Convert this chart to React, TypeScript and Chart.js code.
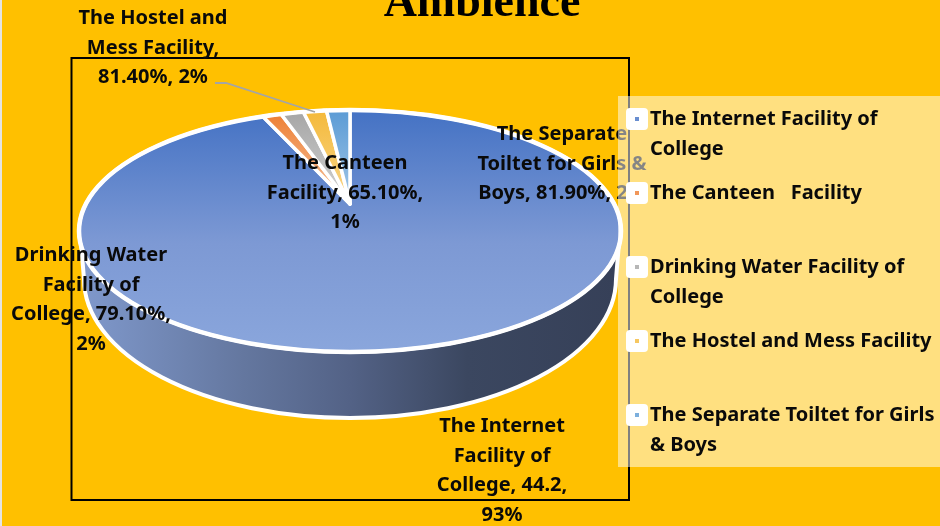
import React, { useEffect, useRef } from "react";
import { Chart, registerables } from "chart.js";

Chart.register(...registerables);

const titleText = "Ambience";
const categories = [
  "The Internet Facility of College",
  "The Canteen \u00a0 Facility",
  "Drinking Water Facility of College",
  "The Hostel and Mess Facility",
  "The Separate Toiltet for Girls & Boys",
];
const values = [44.2, 0.651, 0.791, 0.814, 0.819];
const sliceColors = ["#4472C4", "#ED7D31", "#A5A5A5", "#F4B93A", "#5B9BD5"];
const sliceFades = ["#8AA6DC", "#F6C4A0", "#D4D4D4", "#F9D88E", "#A4C8E8"];
const dataLabelLines = [
  ["The Internet", "Facility of", "College, 44.2,", "93%"],
  ["The Canteen", "Facility, 65.10%,", "1%"],
  ["Drinking Water", "Facility of", "College, 79.10%,", "2%"],
  ["The Hostel and", "Mess Facility,", "81.40%, 2%"],
  ["The Separate", "Toiltet for Girls &", "Boys, 81.90%, 2%"],
];

const FONT = "'Noto Sans', sans-serif";
const LABEL_SIZE = 20;
const LINE = 29.6;
const CX = 350;
const CY = 231;
const RX = 271;
const RY = 121;
const K = 0.223;
const labelAnchors = [
  { x: 502, y: 426.5 },
  { x: 345, y: 163.5 },
  { x: 91, y: 255.5 },
  { x: 153, y: 18.5 },
  { x: 562, y: 134.5 },
];
const legendTops = [103, 177, 251, 325, 399];

function project(u: number, v: number): [number, number] {
  const w = 1 - K * v;
  const X = (u * Math.sqrt(1 - K * K)) / w;
  const Y = (v - K) / w;
  return [CX + RX * X, CY + RY * Y];
}

function drawSlice(this: any, ctx: CanvasRenderingContext2D) {
  const el = this;
  const i = el.$index as number;
  const steps = 120;
  ctx.save();
  ctx.beginPath();
  const [ax, ay] = project(0, 0);
  ctx.moveTo(ax, ay);
  for (let s = 0; s <= steps; s++) {
    const a = el.startAngle + ((el.endAngle - el.startAngle) * s) / steps;
    const [px, py] = project(Math.cos(a), Math.sin(a));
    ctx.lineTo(px, py);
  }
  ctx.closePath();
  const grad = ctx.createLinearGradient(0, 110, 0, i === 0 ? 352 : 205);
  grad.addColorStop(0, sliceColors[i]);
  if (i === 0) grad.addColorStop(0.55, "#7D99D4");
  grad.addColorStop(1, sliceFades[i]);
  ctx.fillStyle = grad;
  ctx.fill();
  ctx.strokeStyle = "#FFFFFF";
  ctx.lineWidth = 3.5;
  ctx.lineJoin = "round";
  ctx.stroke();
  ctx.restore();
}

const pie3d = {
  id: "pie3d",
  beforeDatasetsDraw(chart: any) {
    const ctx: CanvasRenderingContext2D = chart.ctx;
    // plot frame
    ctx.save();
    ctx.strokeStyle = "#000000";
    ctx.lineWidth = 2;
    ctx.strokeRect(71.5, 58, 557.5, 442);
    // side wall of the disc
    const wallCy = 279;
    const wallRx = 266;
    const wallRy = 139;
    ctx.beginPath();
    ctx.moveTo(CX - RX + 1, CY);
    ctx.lineTo(CX - wallRx, wallCy);
    ctx.ellipse(CX, wallCy, wallRx, wallRy, 0, Math.PI, 0, true);
    ctx.lineTo(CX + RX - 1, CY);
    ctx.closePath();
    const g = ctx.createLinearGradient(84, 0, 616, 0);
    g.addColorStop(0, "#7F98CB");
    g.addColorStop(0.3, "#64779F");
    g.addColorStop(0.5, "#536286");
    g.addColorStop(0.72, "#3B4760");
    g.addColorStop(1, "#364058");
    ctx.fillStyle = g;
    ctx.fill();
    ctx.strokeStyle = "#FFFFFF";
    ctx.lineWidth = 4;
    ctx.stroke();
    ctx.restore();
    const meta = chart.getDatasetMeta(0);
    meta.data.forEach((el: any, i: number) => {
      el.$index = i;
      el.draw = drawSlice;
    });
  },
  afterDatasetsDraw(chart: any) {
    const ctx: CanvasRenderingContext2D = chart.ctx;
    ctx.save();
    // white rim of the top face
    ctx.strokeStyle = "#FFFFFF";
    ctx.lineWidth = 4.5;
    ctx.beginPath();
    ctx.ellipse(CX, CY, RX, RY, 0, 0, Math.PI * 2);
    ctx.stroke();
    // leader line
    ctx.strokeStyle = "#A5A5A5";
    ctx.lineWidth = 1.8;
    ctx.beginPath();
    ctx.moveTo(215, 83);
    ctx.lineTo(226, 83);
    ctx.lineTo(315, 112);
    ctx.stroke();
    // title, cropped by the top edge
    ctx.fillStyle = "#000000";
    ctx.textAlign = "center";
    ctx.textBaseline = "alphabetic";
    ctx.font = "bold 46px 'Liberation Serif', serif";
    ctx.fillText(titleText, 482, 16);
    // data labels
    ctx.font = `bold ${LABEL_SIZE}px ${FONT}`;
    ctx.textBaseline = "middle";
    ctx.fillStyle = "#0A0A0A";
    dataLabelLines.forEach((lines, i) => {
      lines.forEach((line, j) => {
        ctx.fillText(line, labelAnchors[i].x, labelAnchors[i].y + j * LINE);
      });
    });
    ctx.restore();
  },
};

export default function App() {
  const ref = useRef<HTMLCanvasElement>(null);
  useEffect(() => {
    const chart = new Chart(ref.current as HTMLCanvasElement, {
      type: "pie",
      data: {
        labels: categories,
        datasets: [{ data: values, backgroundColor: sliceColors, borderColor: "#FFFFFF", borderWidth: 3 }],
      },
      options: {
        animation: false,
        responsive: false,
        events: [],
        plugins: { legend: { display: false }, tooltip: { enabled: false } },
      },
      plugins: [pie3d],
    } as any);
    return () => chart.destroy();
  }, []);

  return (
    <div style={{ position: "fixed", left: 0, top: 0, width: 940, height: 526, overflow: "hidden", background: "#FFC000" }}>
      <canvas ref={ref} width={940} height={526} style={{ position: "absolute", left: 0, top: 0, display: "block" }} />
      <div style={{ position: "absolute", left: 0, top: 0, width: 2, height: 526, background: "#E4E4E4" }} />
      <div
        style={{
          position: "absolute",
          left: 618,
          top: 96,
          width: 322,
          height: 371,
          background: "rgba(255,255,255,0.5)",
        }}
      />
      {categories.map((c, i) => (
        <div key={i}>
          <div
            style={{
              position: "absolute",
              left: 626,
              top: legendTops[i] + 5,
              width: 22,
              height: 22,
              borderRadius: 4,
              background: "#FFFFFF",
            }}
          >
            <div style={{ position: "absolute", left: 9, top: 9, width: 4, height: 4, background: sliceColors[i], opacity: 0.8 }} />
          </div>
          <div
            style={{
              position: "absolute",
              left: 650,
              top: legendTops[i],
              width: 289,
              font: `bold ${LABEL_SIZE}px ${FONT}`,
              lineHeight: `${LINE}px`,
              color: "#0A0A0A",
              whiteSpace: "pre-wrap",
            }}
          >
            {c}
          </div>
        </div>
      ))}
    </div>
  );
}
